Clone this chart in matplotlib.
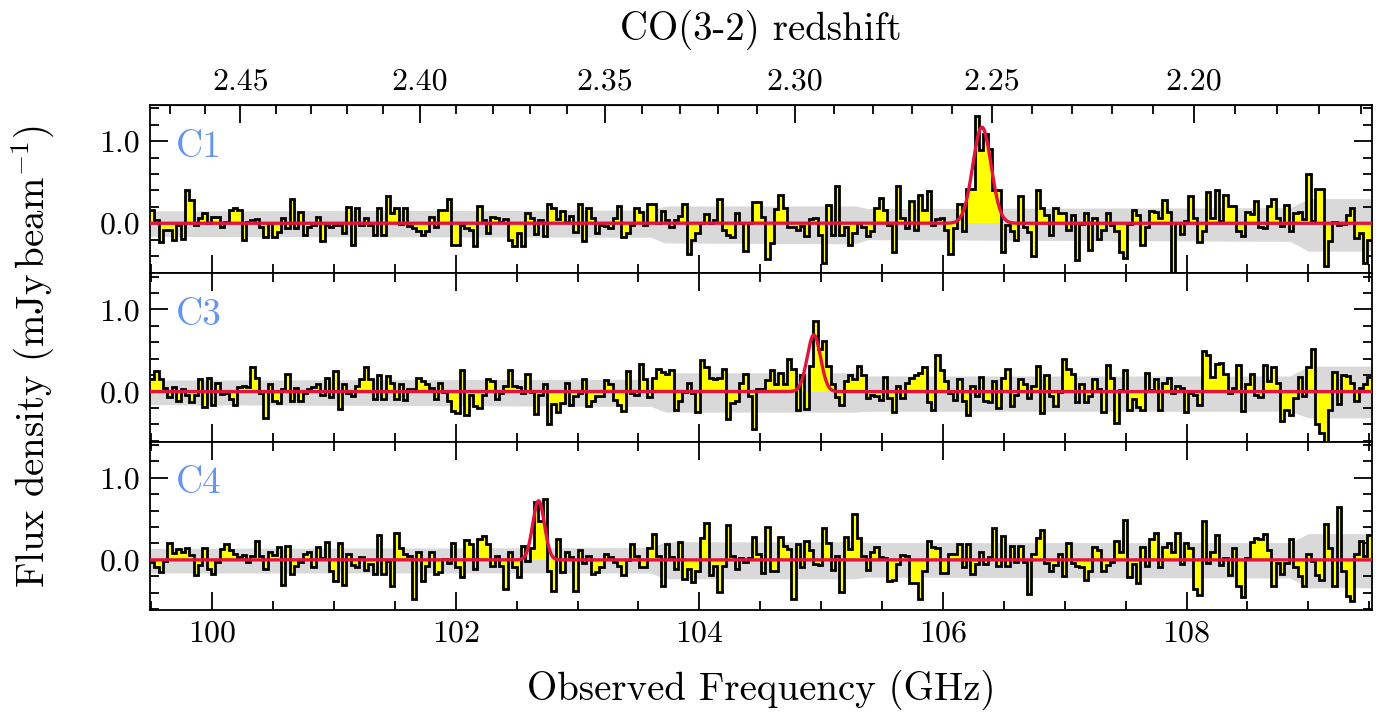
import numpy as np
import matplotlib
matplotlib.use("Agg")
import matplotlib.pyplot as plt
from matplotlib.ticker import MultipleLocator, FormatStrFormatter

plt.rcParams['font.family'] = 'serif'
plt.rcParams['font.serif'] = ['cmr10']
plt.rcParams['mathtext.fontset'] = 'cm'
plt.rcParams['axes.formatter.use_mathtext'] = True

# channel grid: 280 channels between these edges
freq_lo, freq_hi, n_chan = 99.49, 109.52, 280
nu_rest_co32 = 345.796  # GHz

# spectra (mJy/beam)
c1_flux = [
    0.16, 0.04, -0.23, -0.08, -0.08, -0.21, -0.02, -0.19, 0.40, 0.28,
    -0.02, 0.06, 0.12, 0.0, 0.08, 0.08, -0.04, 0.02, 0.16, 0.19,
    0.16, -0.21, 0.02, 0.04, 0.05, -0.04, -0.17, 0.0, -0.17, -0.11,
    0.07, -0.06, 0.29, -0.06, 0.14, -0.14, -0.04, -0.02, 0.08, -0.22,
    -0.02, -0.04, -0.02, -0.02, -0.12, 0.20, -0.26, 0.18, -0.02, 0.06,
    -0.02, -0.14, 0.19, -0.14, 0.33, 0.12, 0.19, -0.01, 0.18, -0.03,
    -0.06, -0.10, -0.14, -0.10, 0.08, -0.04, 0.16, 0.16, 0.29, -0.26,
    -0.26, -0.02, -0.06, -0.08, -0.28, 0.21, 0.04, -0.12, 0.08, 0.06,
    0.02, 0.05, -0.21, -0.28, -0.12, -0.28, 0.12, 0.07, -0.13, 0.04,
    -0.16, 0.23, 0.18, 0.05, 0.15, 0.02, 0.09, -0.11, 0.24, -0.22,
    0.18, 0.06, -0.12, -0.02, -0.03, -0.06, 0.06, 0.21, -0.17, -0.12,
    -0.02, 0.19, 0.14, -0.02, 0.23, 0.23, 0.0, 0.15, 0.04, -0.05,
    0.04, 0.09, 0.23, -0.38, -0.20, -0.12, 0.0, 0.11, 0.0, 0.04,
    0.29, -0.08, -0.14, -0.17, 0.12, 0.0, -0.34, 0.0, 0.26, 0.26,
    0.08, -0.44, -0.24, 0.17, 0.35, 0.19, -0.04, -0.05, -0.08, -0.03,
    -0.15, 0.05, 0.07, -0.14, -0.48, 0.22, -0.14, 0.45, -0.14, -0.04,
    -0.27, -0.12, 0.0, -0.04, -0.15, -0.10, 0.18, 0.31, 0.16, -0.02,
    -0.35, 0.45, 0.07, -0.06, 0.27, -0.08, 0.35, 0.16, 0.39, -0.02,
    0.05, 0.06, -0.08, -0.37, -0.06, 0.24, -0.10, 0.42, 0.42, 1.31,
    0.89, 1.09, 0.91, 0.41, 0.41, -0.35, -0.02, -0.09, -0.21, 0.33,
    -0.04, -0.11, -0.40, 0.40, 0.18, 0.10, -0.14, 0.18, 0.12, 0.12,
    -0.08, 0.10, -0.45, -0.01, 0.12, -0.32, 0.06, -0.19, -0.08, 0.13,
    -0.02, -0.09, -0.35, -0.42, -0.01, 0.16, 0.10, -0.27, -0.04, 0.15,
    0.14, 0.07, 0.28, 0.14, -0.66, 0.0, -0.13, 0.03, 0.33, 0.06,
    -0.23, -0.10, 0.38, 0.06, 0.40, 0.03, 0.35, 0.21, 0.21, -0.10,
    -0.15, 0.14, 0.11, 0.27, -0.05, -0.06, 0.21, 0.29, 0.06, -0.03,
    0.22, -0.10, 0.12, 0.14, 0.05, 0.60, 0.03, 0.42, 0.42, -0.52,
    -0.22, 0.02, -0.02, -0.01, 0.10, 0.18, -0.18, -0.12, -0.48, -0.20,
]
c3_flux = [
    0.15, 0.25, 0.15, 0.04, -0.07, 0.06, -0.11, 0.03, -0.04, -0.13,
    -0.04, 0.15, -0.19, 0.17, -0.16, 0.11, -0.03, -0.02, -0.09, -0.16,
    0.06, 0.07, 0.06, 0.30, 0.17, -0.02, -0.32, 0.09, -0.11, -0.14,
    0.03, 0.22, -0.12, 0.04, -0.12, -0.02, 0.03, 0.06, 0.09, -0.04,
    0.17, -0.07, 0.25, -0.21, 0.09, -0.02, -0.05, 0.07, 0.15, 0.30,
    0.15, -0.09, 0.20, -0.09, 0.19, 0.11, -0.09, 0.09, -0.10, 0.03,
    0.03, 0.17, 0.13, 0.09, 0.04, -0.09, 0.11, -0.01, -0.12, -0.24,
    -0.26, 0.26, -0.28, -0.04, -0.17, -0.20, -0.04, 0.15, 0.13, -0.09,
    -0.02, 0.07, 0.26, 0.07, 0.05, -0.02, 0.22, 0.0, -0.27, -0.04,
    0.09, -0.40, -0.15, -0.25, -0.14, 0.11, -0.16, -0.05, -0.02, 0.15,
    -0.17, -0.12, -0.06, -0.05, 0.14, 0.09, -0.10, -0.16, -0.24, 0.25,
    -0.02, -0.04, 0.33, 0.15, -0.07, 0.17, 0.28, 0.24, 0.21, 0.26,
    -0.22, -0.11, -0.01, 0.10, -0.02, -0.25, 0.39, 0.30, 0.17, 0.15,
    0.17, 0.28, -0.34, -0.14, -0.12, 0.11, 0.22, -0.06, -0.46, 0.03,
    0.03, 0.14, 0.26, 0.09, 0.23, 0.09, 0.40, 0.27, -0.22, 0.20,
    -0.21, 0.31, 0.86, 0.52, 0.62, 0.31, 0.09, -0.07, -0.16, 0.13,
    0.20, 0.15, 0.31, 0.20, -0.08, -0.04, -0.05, -0.10, 0.18, -0.08,
    -0.25, 0.07, -0.08, 0.11, 0.17, 0.20, 0.23, 0.30, -0.13, -0.23,
    0.44, 0.26, 0.13, -0.02, -0.10, 0.15, -0.11, -0.29, 0.07, -0.06,
    0.18, -0.12, -0.13, 0.13, -0.20, 0.17, 0.27, -0.17, -0.04, 0.15,
    0.09, -0.08, 0.07, 0.31, -0.26, 0.20, -0.06, -0.18, -0.01, 0.40,
    0.28, 0.22, -0.13, 0.09, -0.13, -0.05, 0.15, 0.03, -0.25, 0.32,
    0.17, -0.38, 0.02, 0.26, -0.22, -0.09, -0.19, -0.22, 0.23, 0.02,
    0.15, -0.23, 0.11, 0.17, -0.02, 0.07, 0.04, -0.25, -0.02, -0.04,
    -0.16, 0.49, 0.44, 0.18, 0.33, 0.35, 0.22, -0.02, 0.04, 0.32,
    -0.24, 0.09, 0.21, -0.04, -0.07, 0.32, 0.13, 0.30, 0.11, -0.36,
    -0.22, -0.28, -0.08, 0.18, -0.06, 0.30, 0.52, -0.39, -0.50, -0.62,
    -0.22, 0.24, -0.15, 0.20, 0.19, 0.11, -0.11, 0.04, 0.09, 0.18,
]
c4_flux = [
    -0.03, -0.09, -0.15, -0.01, 0.20, 0.08, 0.13, 0.10, 0.14, 0.06,
    -0.19, -0.06, 0.14, -0.11, -0.17, -0.02, 0.13, 0.19, 0.12, 0.07,
    0.03, 0.06, -0.02, 0.05, 0.23, 0.05, -0.11, 0.09, 0.06, 0.16,
    -0.31, 0.17, -0.17, -0.08, -0.03, 0.07, 0.09, -0.09, 0.16, 0.02,
    0.22, -0.13, -0.26, 0.21, -0.30, 0.07, -0.06, -0.09, 0.03, -0.12,
    -0.05, -0.17, 0.30, -0.17, -0.01, -0.32, 0.33, 0.14, 0.07, 0.05,
    -0.48, 0.10, -0.26, -0.07, 0.10, -0.17, -0.15, 0.01, -0.04, 0.20,
    -0.09, -0.21, 0.24, 0.19, -0.11, 0.26, 0.29, 0.19, -0.08, 0.05,
    -0.08, -0.35, 0.09, -0.09, -0.21, 0.17, -0.01, 0.14, 0.71, 0.47,
    0.74, -0.13, -0.38, 0.26, -0.15, 0.10, 0.03, -0.38, 0.12, -0.04,
    0.05, -0.17, -0.15, -0.09, 0.07, 0.03, -0.03, -0.07, -0.19, 0.0,
    0.19, 0.05, -0.09, -0.09, 0.14, 0.31, 0.05, -0.32, 0.19, 0.03,
    -0.11, 0.22, -0.23, -0.11, -0.27, -0.13, 0.27, 0.45, -0.19, -0.07,
    -0.39, -0.07, 0.42, 0.05, -0.11, 0.02, -0.02, 0.02, 0.28, 0.07,
    -0.16, 0.40, -0.14, -0.13, 0.28, 0.17, 0.13, -0.48, 0.19, -0.09,
    0.23, 0.12, -0.05, -0.06, 0.39, 0.21, -0.12, 0.05, -0.39, 0.28,
    0.13, 0.56, 0.27, 0.05, -0.12, 0.09, 0.16, 0.03, 0.02, -0.26,
    -0.24, -0.05, 0.06, 0.05, -0.28, -0.28, -0.48, -0.14, 0.23, 0.16,
    0.14, -0.16, -0.16, 0.07, 0.07, 0.19, -0.09, 0.19, -0.17, -0.05,
    0.09, -0.05, 0.03, 0.39, -0.07, 0.29, -0.08, 0.17, -0.03, 0.17,
    -0.03, -0.41, 0.07, 0.27, 0.36, -0.04, -0.14, -0.06, 0.07, -0.20,
    0.21, -0.04, -0.07, -0.09, -0.24, -0.13, 0.16, 0.12, -0.14, -0.06,
    -0.03, 0.23, 0.10, 0.49, -0.21, -0.05, -0.28, 0.16, -0.08, 0.25,
    0.33, -0.09, 0.16, 0.21, 0.09, 0.33, -0.05, 0.21, 0.14, -0.35,
    -0.43, 0.47, -0.04, 0.09, 0.30, -0.06, 0.02, -0.19, 0.14, -0.32,
    -0.45, 0.02, 0.22, 0.27, 0.25, 0.31, 0.12, -0.32, -0.04, -0.17,
    -0.04, 0.26, -0.09, -0.20, -0.32, 0.07, -0.01, -0.19, -0.25, 0.44,
    0.14, -0.32, 0.64, -0.13, -0.44, -0.50, 0.07, 0.23, 0.05, 0.30,
]

# 1-sigma noise band (grey), per panel
band_freq = [99.49, 103.60, 103.72, 105.28, 105.38, 108.85, 109.00, 109.52]
c1_band_hi = [0.15, 0.16, 0.21, 0.21, 0.18, 0.19, 0.30, 0.30]
c1_band_lo = [-0.16, -0.17, -0.24, -0.25, -0.20, -0.22, -0.34, -0.34]
c3_band_hi = [0.14, 0.15, 0.23, 0.23, 0.19, 0.19, 0.31, 0.31]
c3_band_lo = [-0.16, -0.18, -0.25, -0.25, -0.24, -0.24, -0.32, -0.32]
c4_band_hi = [0.14, 0.15, 0.22, 0.22, 0.21, 0.21, 0.32, 0.32]
c4_band_lo = [-0.16, -0.16, -0.23, -0.23, -0.21, -0.22, -0.34, -0.34]

# gaussian line fits: amplitude, centre (GHz), sigma (GHz)
c1_fit = (1.17, 106.32, 0.075)
c3_fit = (0.69, 104.94, 0.055)
c4_fit = (0.72, 102.68, 0.048)

panels = [
    ("C1", c1_flux, c1_band_lo, c1_band_hi, c1_fit),
    ("C3", c3_flux, c3_band_lo, c3_band_hi, c3_fit),
    ("C4", c4_flux, c4_band_lo, c4_band_hi, c4_fit),
]

edges = np.linspace(freq_lo, freq_hi, n_chan + 1)
fgrid = np.linspace(freq_lo, freq_hi, 3000)

fig, axes = plt.subplots(3, 1, sharex=True, figsize=(13.81, 7.13), dpi=100)
fig.subplots_adjust(left=0.1086, right=0.9933, bottom=0.1445, top=0.8527, hspace=0)

for i, (ax, (name, flux, blo, bhi, fit)) in enumerate(zip(axes, panels)):
    ax.fill_between(band_freq, blo, bhi, color='#d9d9d9', lw=0, zorder=1)
    ax.stairs(flux, edges, baseline=0, fill=True, color='yellow', zorder=2)
    ax.stairs(flux, edges, baseline=None, color='black', lw=2.0, zorder=3)
    amp, cen, sig = fit
    model = amp * np.exp(-0.5 * ((fgrid - cen) / sig) ** 2)
    ax.plot(fgrid, model, color='#e0143c', lw=2.4, zorder=4)

    ax.text(0.021, 0.75, name, transform=ax.transAxes, fontsize=27,
            color='#6495ed', va='center', ha='left')

    ax.set_ylim(-0.61, 1.44)
    ax.set_xlim(freq_lo, freq_hi)
    ax.yaxis.set_major_locator(MultipleLocator(1.0))
    ax.yaxis.set_minor_locator(MultipleLocator(0.2))
    ax.yaxis.set_major_formatter(FormatStrFormatter('%.1f'))
    ax.xaxis.set_major_locator(MultipleLocator(2))
    ax.xaxis.set_minor_locator(MultipleLocator(0.5))
    ax.tick_params(which='both', direction='in', right=True, top=(i > 0),
                   labelsize=23, width=1.3, pad=7)
    ax.tick_params(which='major', length=13)
    ax.tick_params(which='minor', length=6.5)
    for s in ax.spines.values():
        s.set_linewidth(1.3)

# redshift axis on top
secax = axes[0].secondary_xaxis(
    'top',
    functions=(lambda f: nu_rest_co32 / np.asarray(f, dtype=float) - 1,
               lambda z: nu_rest_co32 / (1 + np.asarray(z, dtype=float))))
secax.set_xticks([2.45, 2.40, 2.35, 2.30, 2.25, 2.20])
secax.xaxis.set_minor_locator(MultipleLocator(0.01))
secax.xaxis.set_major_formatter(FormatStrFormatter('%.2f'))
secax.tick_params(which='both', direction='in', labelsize=23, width=1.3, pad=7)
secax.tick_params(which='major', length=13)
secax.tick_params(which='minor', length=6.5)
secax.set_xlabel('CO(3-2) redshift', fontsize=28, labelpad=20)

axes[2].set_xlabel('Observed Frequency (GHz)', fontsize=28, labelpad=16)
fig.text(0.024, 0.5, r'Flux density (mJy$\,$beam$^{-1}$)', rotation=90,
         fontsize=28, va='center', ha='center')

fig.savefig('out.png', dpi=100)
